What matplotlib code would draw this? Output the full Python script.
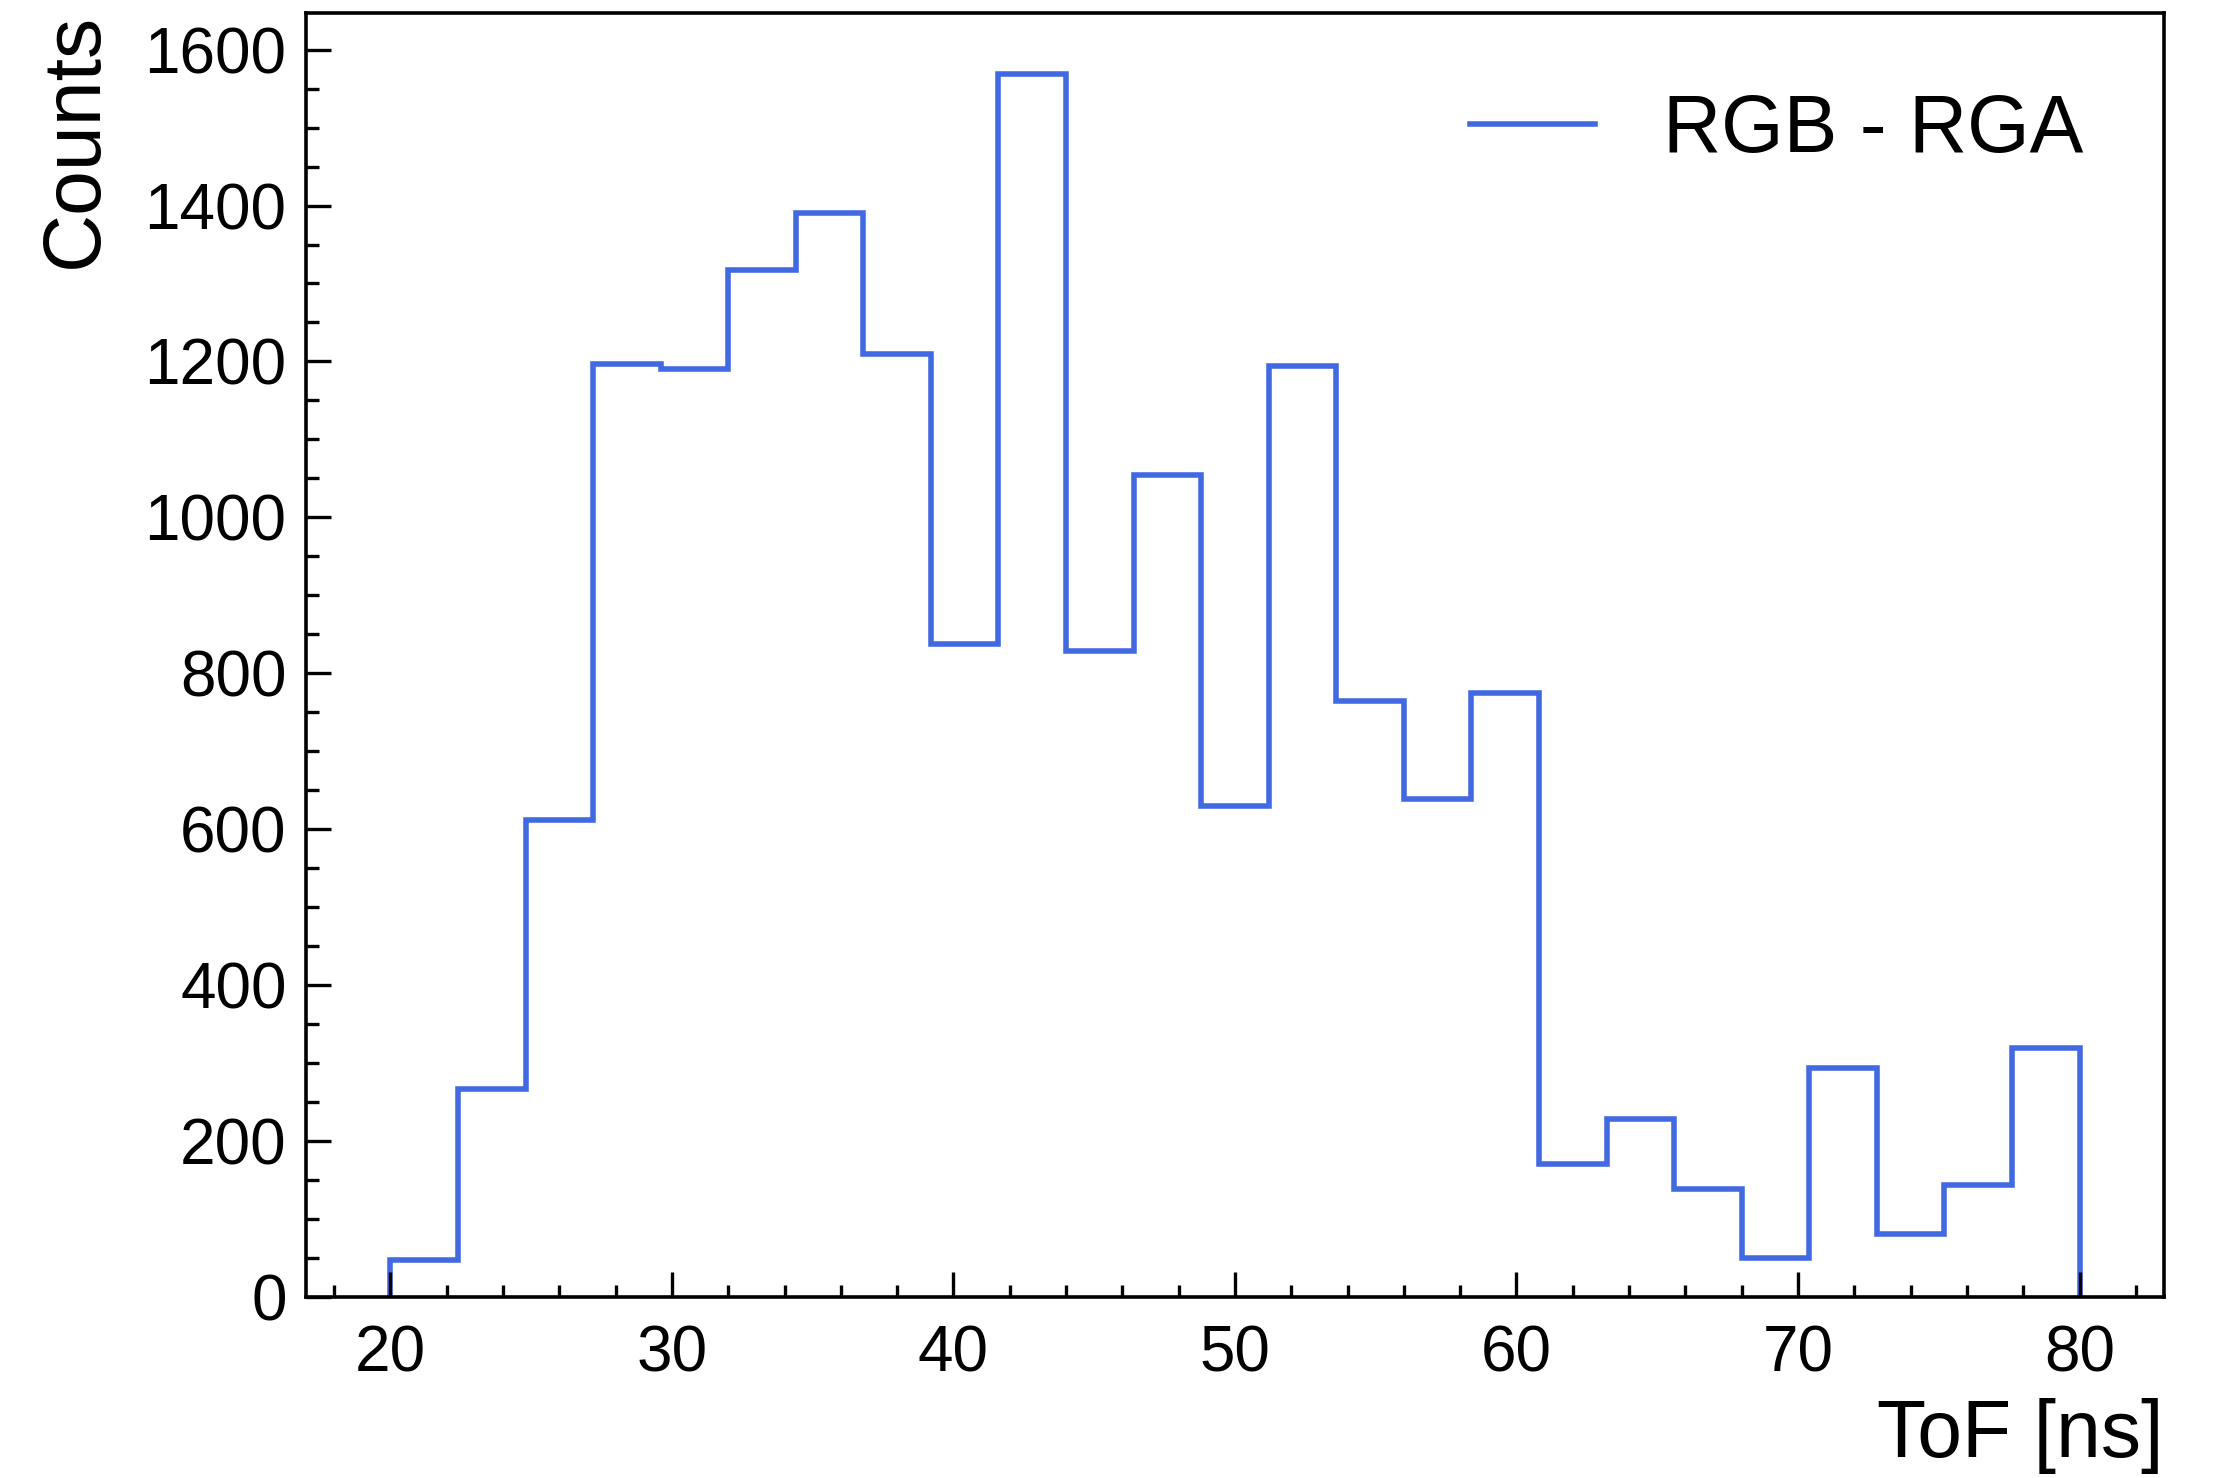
import numpy as np
import matplotlib
matplotlib.use("Agg")
import matplotlib.pyplot as plt
from matplotlib.ticker import MultipleLocator, AutoMinorLocator

plt.rcParams['font.family'] = ['Liberation Sans', 'DejaVu Sans']

bin_edges = np.linspace(20, 80, 26)
counts = [47, 266, 612, 1197, 1190, 1317, 1391, 1210, 837, 1569,
          828, 1054, 629, 1194, 764, 638, 774, 170, 228, 138,
          49, 293, 80, 143, 319]
label = "RGB - RGA"

fig = plt.figure(figsize=(11.07, 7.39), dpi=200)
ax = fig.add_axes([0.1382, 0.1227, 0.9774 - 0.1382, 0.9914 - 0.1227])

ax.stairs(counts, bin_edges, color='#4169E1', lw=2.0, label=label, baseline=0)

ax.set_xlim(17, 83)
ax.set_ylim(0, max(counts) * 1.05)

ax.xaxis.set_major_locator(MultipleLocator(10))
ax.xaxis.set_minor_locator(AutoMinorLocator(5))
ax.yaxis.set_major_locator(MultipleLocator(200))
ax.yaxis.set_minor_locator(AutoMinorLocator(4))

ax.tick_params(which='both', direction='in', top=False, right=False, width=1.2, labelsize=23)
ax.tick_params(which='major', length=9)
ax.tick_params(which='minor', length=4.5)
ax.tick_params(axis='x', which='major', pad=10)
ax.tick_params(axis='y', which='major', pad=7)
for s in ax.spines.values():
    s.set_linewidth(1.3)

ax.set_xlabel("ToF [ns]", fontsize=29, loc='right', labelpad=5)
ax.set_ylabel("Counts", fontsize=29, loc='top', labelpad=11)

leg = ax.legend(loc='upper right', frameon=False, fontsize=29,
                handlelength=1.55, handletextpad=0.85, borderaxespad=0.6)

fig.savefig("out.png", dpi=200)
